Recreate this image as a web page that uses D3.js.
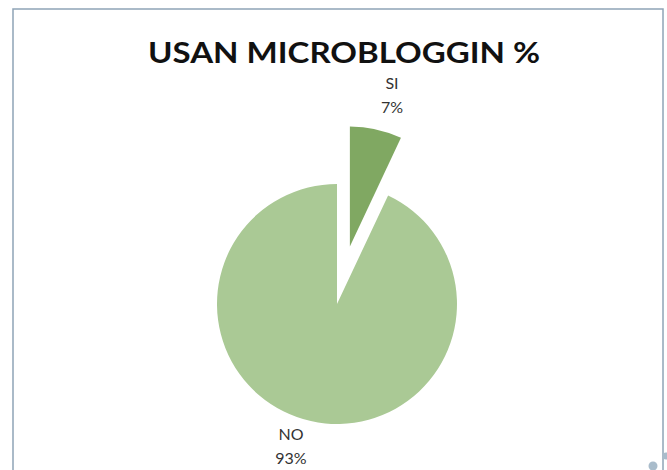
<!DOCTYPE html>
<html>
<head>
<meta charset="utf-8">
<script src="https://cdn.jsdelivr.net/npm/d3@7"></script>
<style>
  html, body { margin: 0; padding: 0; background: #ffffff; }
  svg { display: block; }
</style>
</head>
<body>
<div id="chart"></div>
<script>
const title = "USAN MICROBLOGGIN %";
const categories = ["SI", "NO"];
const values = [7, 93];
const percentLabels = ["7%", "93%"];
const colors = ["#80a862", "#aac995"];

const W = 667, H = 470;
const svg = d3.select("#chart").append("svg").attr("width", W).attr("height", H);

// frame
svg.append("rect")
  .attr("x", 13).attr("y", 9).attr("width", 650).attr("height", 470)
  .attr("fill", "none").attr("stroke", "#8fa4b6").attr("stroke-width", 1.5);

// decorative dots bottom right
svg.append("circle").attr("cx", 653).attr("cy", 466).attr("r", 4.5).attr("fill", "#a9bccb");
svg.append("circle").attr("cx", 666).attr("cy", 456).attr("r", 3.5).attr("fill", "#a9bccb");

// title
svg.append("text")
  .attr("x", 344).attr("y", 63)
  .attr("text-anchor", "middle")
  .attr("font-family", "Lato, 'Open Sans', sans-serif")
  .attr("font-weight", "bold")
  .attr("font-size", 29)
  .attr("fill", "#111")
  .attr("textLength", 392)
  .attr("lengthAdjust", "spacingAndGlyphs")
  .text(title);

const cx = 337, cy = 304, r = 120, explode = 59;
const data = categories.map((c, i) => ({ cat: c, value: values[i], pct: percentLabels[i], color: colors[i] }));

const pie = d3.pie().value(d => d.value).sort(null);
const arcs = pie(data);
const arc = d3.arc().innerRadius(0).outerRadius(r);

const g = svg.append("g").attr("transform", `translate(${cx},${cy})`);

g.selectAll("path").data(arcs).enter().append("path")
  .attr("d", arc)
  .attr("fill", d => d.data.color)
  .attr("transform", d => {
    if (d.data.cat === "SI") {
      const a = (d.startAngle + d.endAngle) / 2;
      return `translate(${explode * Math.sin(a)},${-explode * Math.cos(a)})`;
    }
    return null;
  });

// labels
const labelPos = { SI: [392, 89], NO: [291, 440] };
const font = "Lato, 'Open Sans', sans-serif";
arcs.forEach(d => {
  const [x, y] = labelPos[d.data.cat];
  const t = svg.append("text")
    .attr("x", x).attr("y", y)
    .attr("text-anchor", "middle")
    .attr("font-family", font)
    .attr("font-size", 16)
    .attr("fill", "#333");
  t.append("tspan").attr("x", x).attr("y", y).text(d.data.cat);
  t.append("tspan").attr("x", x).attr("y", y + 24).text(d.data.pct);
});
</script>
</body>
</html>
